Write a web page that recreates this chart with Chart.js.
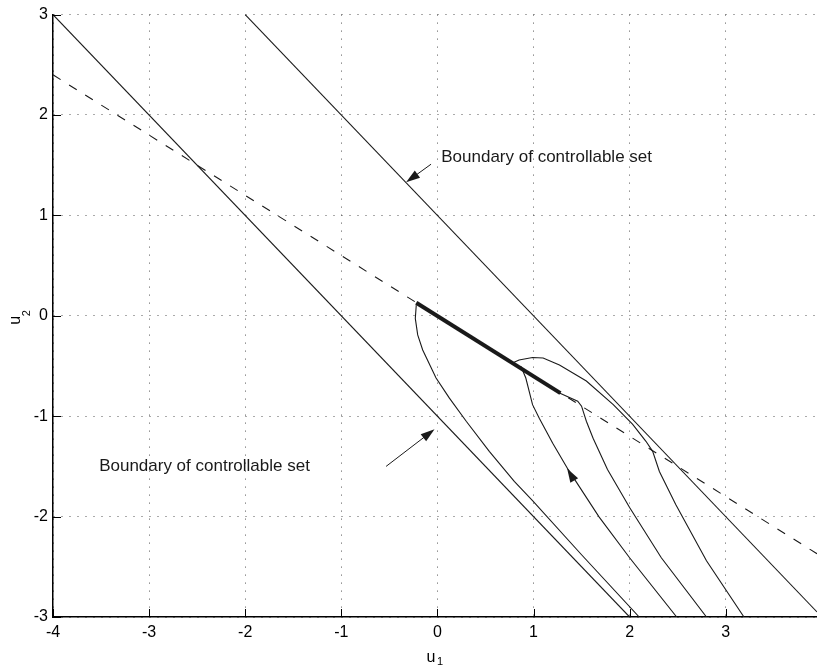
<!DOCTYPE html>
<html>
<head>
<meta charset="utf-8">
<script src="https://cdn.jsdelivr.net/npm/chart.js@4.4.0/dist/chart.umd.min.js"></script>
<style>
  html, body { margin: 0; padding: 0; background: #fff; }
  #wrap { width: 817px; height: 665px; }
</style>
</head>
<body>
<div id="wrap"><canvas id="phaseChart" width="817" height="665"></canvas></div>
<script>
// tick labels
const xTicks = [-4, -3, -2, -1, 0, 1, 2, 3];
const yTicks = [-3, -2, -1, 0, 1, 2, 3];

// boundaries of the controllable set (u1, u2)
const leftBoundU1 = [-4, 2];
const leftBoundU2 = [3, -3];
const rightBoundU1 = [-2, 3.95];
const rightBoundU2 = [3, -2.95];

// dashed line
const dashU1 = [-4, 3.95];
const dashU2 = [2.4, -2.37];

// thick segment
const thickU1 = [-0.22, 1.28];
const thickU2 = [0.13, -0.77];

// trajectories
const traj1U1 = [-0.22, -0.23, -0.205, -0.153, -0.014, 0.125, 0.30, 0.54, 0.80, 0.99, 1.5, 2.1];
const traj1U2 = [0.106, -0.026, -0.19, -0.34, -0.62, -0.82, -1.05, -1.35, -1.65, -1.84, -2.38, -3.0];
const traj2U1 = [0.87, 0.92, 0.99, 1.06, 1.2, 1.36, 1.68, 2.0, 2.49];
const traj2U2 = [-0.505, -0.62, -0.885, -1.02, -1.27, -1.53, -2.0, -2.41, -3.0];
const traj3U1 = [1.27, 1.46, 1.50, 1.55, 1.62, 1.77, 2.0, 2.33, 2.8];
const traj3U2 = [-0.77, -0.85, -0.90, -1.05, -1.22, -1.53, -1.91, -2.41, -3.0];
const traj4U1 = [0.78, 0.85, 0.99, 1.1, 1.27, 1.55, 1.83, 2.03, 2.17, 2.24, 2.31, 2.48, 2.8, 3.19];
const traj4U2 = [-0.47, -0.44, -0.416, -0.42, -0.49, -0.65, -0.885, -1.08, -1.25, -1.35, -1.55, -1.88, -2.44, -3.0];

// text labels and arrows (data coords)
const labels = [
  { text: 'Boundary of controllable set', at: [0.04, 1.58] },
  { text: 'Boundary of controllable set', at: [-3.52, -1.50] }
];
const arrows = [
  { from: [-0.066, 1.51], to: [-0.326, 1.33], line: true },
  { from: [-0.534, -1.50], to: [-0.03, -1.13], line: true },
  { from: [1.43, -1.65], to: [1.35, -1.52], line: false }
];

function pts(xs, ys) {
  return xs.map((v, i) => ({ x: v, y: ys[i] }));
}

function lineSet(xs, ys, width, dash) {
  return {
    data: pts(xs, ys),
    showLine: true,
    borderColor: '#1a1a1a',
    borderWidth: width,
    borderDash: dash || [],
    pointRadius: 0,
    tension: 0,
    fill: false
  };
}

const inkColor = '#1a1a1a';
const fontFamily = "'Liberation Sans', Arial, Helvetica, sans-serif";

const extras = {
  id: 'extras',
  afterDatasetsDraw(chart) {
    const { ctx, scales: { x, y }, chartArea } = chart;
    ctx.save();

    // inward tick marks
    ctx.strokeStyle = '#000';
    ctx.lineWidth = 1;
    ctx.beginPath();
    xTicks.forEach(t => {
      const px = Math.round(x.getPixelForValue(t)) + 0.5;
      ctx.moveTo(px, chartArea.bottom);
      ctx.lineTo(px, chartArea.bottom - 8);
    });
    yTicks.forEach(t => {
      const py = Math.round(y.getPixelForValue(t)) + 0.5;
      ctx.moveTo(chartArea.left, py);
      ctx.lineTo(chartArea.left + 8, py);
    });
    ctx.stroke();

    // arrows
    ctx.strokeStyle = inkColor;
    ctx.fillStyle = inkColor;
    arrows.forEach(a => {
      const x0 = x.getPixelForValue(a.from[0]), y0 = y.getPixelForValue(a.from[1]);
      const x1 = x.getPixelForValue(a.to[0]), y1 = y.getPixelForValue(a.to[1]);
      const ang = Math.atan2(y1 - y0, x1 - x0);
      const len = 14, half = 4.5;
      if (a.line) {
        ctx.beginPath();
        ctx.moveTo(x0, y0);
        ctx.lineTo(x1 - Math.cos(ang) * len * 0.8, y1 - Math.sin(ang) * len * 0.8);
        ctx.stroke();
      }
      const bx = x1 - Math.cos(ang) * len, by = y1 - Math.sin(ang) * len;
      ctx.beginPath();
      ctx.moveTo(x1, y1);
      ctx.lineTo(bx + Math.sin(ang) * half, by - Math.cos(ang) * half);
      ctx.lineTo(bx - Math.sin(ang) * half, by + Math.cos(ang) * half);
      ctx.closePath();
      ctx.fill();
    });

    // labels
    ctx.font = '17px ' + fontFamily;
    ctx.textAlign = 'left';
    ctx.textBaseline = 'middle';
    labels.forEach(l => {
      ctx.fillText(l.text, x.getPixelForValue(l.at[0]), y.getPixelForValue(l.at[1]));
    });

    // axis titles with subscripts
    ctx.fillStyle = '#000';
    ctx.textBaseline = 'alphabetic';
    const cx = x.getPixelForValue(0);
    ctx.font = '16px ' + fontFamily;
    ctx.fillText('u', cx - 11, 662);
    ctx.font = '11px ' + fontFamily;
    ctx.fillText('1', cx - 0.5, 665);

    ctx.translate(20, y.getPixelForValue(0) + 9);
    ctx.rotate(-Math.PI / 2);
    ctx.font = '16px ' + fontFamily;
    ctx.fillText('u', 0, 0);
    ctx.font = '11px ' + fontFamily;
    ctx.fillText('2', 8.5, 10);
    ctx.restore();
  }
};

Chart.defaults.font.family = fontFamily;
Chart.defaults.color = '#000';

const canvas = document.getElementById('phaseChart');
new Chart(canvas, {
  type: 'scatter',
  data: {
    datasets: [
      lineSet(leftBoundU1, leftBoundU2, 1.1),
      lineSet(rightBoundU1, rightBoundU2, 1.1),
      lineSet(dashU1, dashU2, 1.1, [9, 10]),
      lineSet(traj1U1, traj1U2, 1.1),
      lineSet(traj2U1, traj2U2, 1.1),
      lineSet(traj3U1, traj3U2, 1.1),
      lineSet(traj4U1, traj4U2, 1.1),
      lineSet(thickU1, thickU2, 4)
    ]
  },
  options: {
    responsive: false,
    animation: false,
    layout: { padding: { top: 12, right: 0, left: 0, bottom: 0 } },
    plugins: {
      legend: { display: false },
      tooltip: { enabled: false }
    },
    scales: {
      x: {
        type: 'linear',
        min: -4,
        max: 3.95,
        afterBuildTicks: s => { s.ticks = xTicks.map(v => ({ value: v })); },
        ticks: { font: { size: 16 }, color: '#000', padding: 6, maxRotation: 0 },
        grid: { color: '#555', lineWidth: 1, drawTicks: false },
        border: { display: true, color: '#000', width: 1.5, dash: [1, 7] },
        afterFit: s => { s.height = 48; }
      },
      y: {
        type: 'linear',
        min: -3,
        max: 3,
        afterBuildTicks: s => { s.ticks = yTicks.map(v => ({ value: v })); },
        ticks: { font: { size: 16 }, color: '#000', padding: 5 },
        grid: { color: '#555', lineWidth: 1, drawTicks: false },
        border: { display: true, color: '#000', width: 1.5, dash: [1, 7] },
        afterFit: s => { s.width = 53; }
      }
    }
  },
  plugins: [extras]
});
</script>
</body>
</html>
